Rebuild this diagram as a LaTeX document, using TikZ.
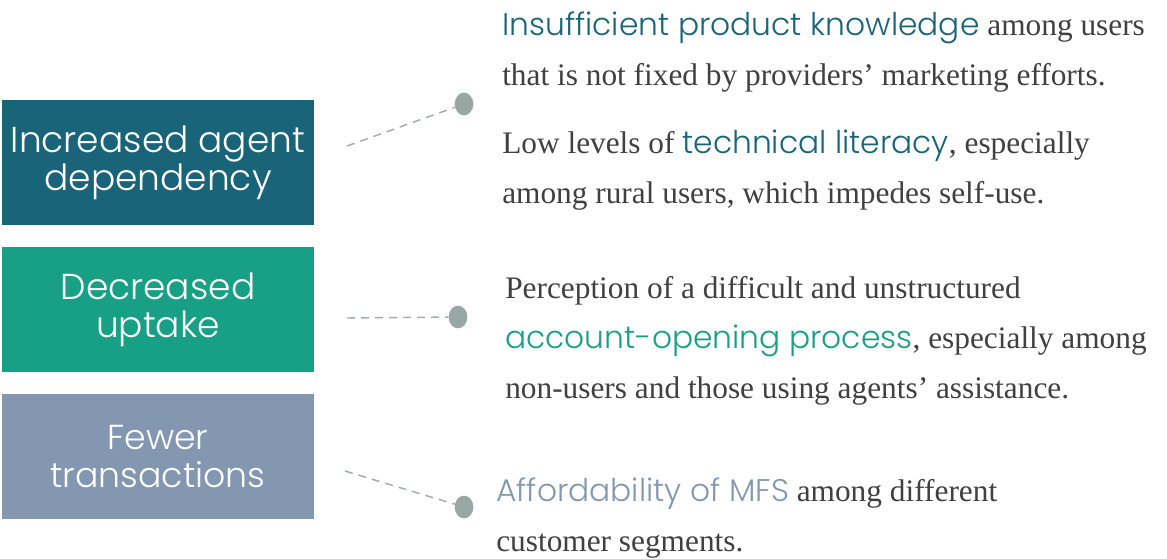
\documentclass[tikz,border=0pt]{standalone}
\usepackage{fontspec}
\setmainfont{Liberation Serif}
\setsansfont{Poppins}[UprightFont=* Light]
\usetikzlibrary{positioning,shapes.geometric}
\definecolor{DeepTeal}{HTML}{1A6479}
\definecolor{Jade}{HTML}{17A085}
\definecolor{Slate}{HTML}{8497B0}
\definecolor{Pin}{HTML}{98A6A4}
\definecolor{Dash}{HTML}{A3ABAB}
\definecolor{Ink}{HTML}{404040}
\tikzset{
 effect/.style={minimum width=234pt, minimum height=93.75pt, inner sep=0pt, align=center, text=white, font=\sffamily\fontsize{27}{28.5}\selectfont},
 tealeffect/.style={effect, fill=DeepTeal},
 jadeeffect/.style={effect, fill=Jade},
 slateeffect/.style={effect, fill=Slate, font=\sffamily\fontsize{26}{28.5}\selectfont},
 pin/.style={ellipse, fill=Pin, minimum width=14pt, minimum height=17pt, inner sep=0pt},
 leader/.style={draw=Dash, line width=1.1pt, dash pattern=on 6pt off 4.5pt},
 cause/.style={anchor=north west, inner sep=0pt, align=left, text=Ink, font=\fontsize{23.5}{37.5}\selectfont}
}
\newcommand{\hl}[2]{{\color{#1}\sffamily\fontsize{23.5}{37.5}\selectfont #2}}

\begin{document}
\begin{tikzpicture}[x=0.75pt,y=-0.75pt]
\useasboundingbox (0,0) rectangle (1167,558);
% effects on the left
\node[tealeffect] (inc) at (158,162.5) {Increased agent\\dependency};
\node[jadeeffect,below=16pt of inc] (dec) {Decreased\\uptake};
\node[slateeffect,below=16pt of dec] (few) {Fewer\\transactions};
% pins and leaders
\node[pin] (p1) at (464,104) {};
\node[pin] (p2) at (458,317) {};
\node[pin] (p3) at (464,507) {};
\coordinate (s1) at (347,146);
\coordinate (s2) at (347,318);
\coordinate (s3) at (345,471);
\draw[leader] (s1)--(p1);\draw[leader] (s2)--(p2);\draw[leader] (s3)--(p3);
% causes on the right
\node[cause] (c1) at (502,12) {\hl{DeepTeal}{Insufficient product knowledge} among users\\that is not fixed by providers' marketing efforts.};
\node[cause] (c2) at (502,130) {Low levels of \hl{DeepTeal}{technical literacy}, especially\\among rural users, which impedes self-use.};
\node[cause] (c3) at (505,276) {Perception of a difficult and unstructured\\\hl{Jade}{account-opening process}, especially among\\non-users and those using agents' assistance.};
\node[cause] (c4) at (496,478) {\hl{Slate}{Affordability of MFS} among different\\customer segments.};
\end{tikzpicture}
\end{document}
